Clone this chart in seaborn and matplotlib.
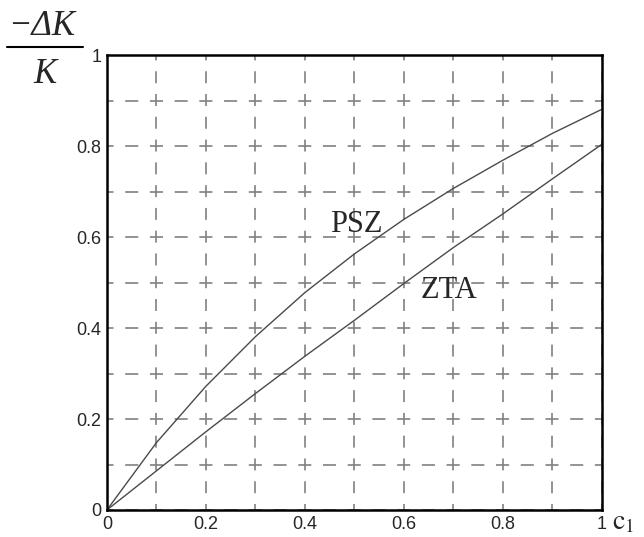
import matplotlib
matplotlib.use("Agg")
import matplotlib.pyplot as plt
from matplotlib.lines import Line2D
from matplotlib.ticker import MultipleLocator, FuncFormatter
import pandas as pd
import seaborn as sns

# Values.
c1 = [0.0, 0.1, 0.2, 0.3, 0.4, 0.5, 0.6, 0.7, 0.8, 0.9, 1.0]
psz = [0.0, 0.148, 0.272, 0.381, 0.478, 0.563, 0.639, 0.707, 0.769, 0.828, 0.881]
zta = [0.0, 0.086, 0.172, 0.256, 0.338, 0.417, 0.498, 0.577, 0.651, 0.728, 0.804]

sns.set_style("white")
plt.rcParams["font.family"] = ["Liberation Sans", "DejaVu Sans"]
plt.rcParams["mathtext.fontset"] = "stix"
plt.rcParams["lines.scale_dashes"] = False

fig = plt.figure(figsize=(6.44, 5.37), dpi=100)
ax = fig.add_axes([0.166, 0.0503, 0.7686, 0.847])

df = pd.DataFrame({"c1": c1, "PSZ": psz, "ZTA": zta})
for col in ["PSZ", "ZTA"]:
    sns.lineplot(data=df, x="c1", y=col, ax=ax, color="#4a4a4a", linewidth=1.0)

ax.set_xlim(0, 1)
ax.set_ylim(0, 1)
ax.set_xlabel("")
ax.set_ylabel("")

# Labelled ticks every 0.2, dashed grid every 0.1.
ax.xaxis.set_major_locator(MultipleLocator(0.2))
ax.yaxis.set_major_locator(MultipleLocator(0.2))
ax.xaxis.set_minor_locator(MultipleLocator(0.1))
ax.yaxis.set_minor_locator(MultipleLocator(0.1))
fmt = FuncFormatter(lambda v, pos: f"{v:g}")
ax.xaxis.set_major_formatter(fmt)
ax.yaxis.set_major_formatter(fmt)

ax.tick_params(which="major", direction="in", length=7, width=1.6,
               labelsize=13, pad=4, color="black")
ax.tick_params(which="minor", length=0)

# Dash pattern in points, roughly half a grid cell per period.
ax.xaxis.grid(True, which="both", color="#808080", linewidth=1.2,
              linestyle=(4.3, (8.6, 7.8)))
ax.yaxis.grid(True, which="both", color="#808080", linewidth=1.2,
              linestyle=(4.7, (9.4, 8.4)))
ax.set_axisbelow(True)

for side in ["left", "bottom", "top", "right"]:
    ax.spines[side].set_visible(True)
    ax.spines[side].set_color("black")
    ax.spines[side].set_linewidth(1.8)

ax.text(0.503, 0.611, "PSZ", ha="center", va="baseline", fontsize=22,
        family="Liberation Serif")
ax.text(0.691, 0.466, "ZTA", ha="center", va="baseline", fontsize=22,
        family="Liberation Serif")

ax.text(1.02, -0.042, r"$\mathrm{c}_{1}$", transform=ax.transAxes,
        ha="left", va="baseline", fontsize=20, clip_on=False)

# Fraction label for the y axis.
fig.text(0.0124, 0.935, "\u2212\u0394K", ha="left", va="baseline",
         fontsize=25, family="Liberation Serif", style="italic")
fig.add_artist(Line2D([7 / 644, 83 / 644], [0.9125, 0.9125],
                      transform=fig.transFigure, color="black", linewidth=1.5))
fig.text(33 / 644, 0.845, "K", ha="left", va="baseline",
         fontsize=25, family="Liberation Serif", style="italic")

fig.savefig("out.png", dpi=100)
